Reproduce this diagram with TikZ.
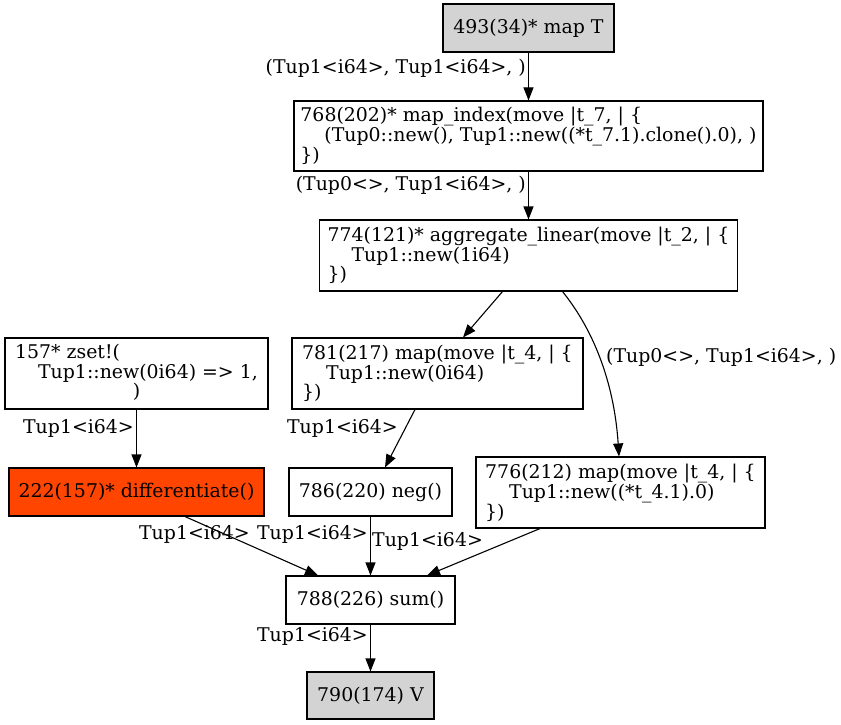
\documentclass[tikz,border=0pt]{standalone}
\usepackage{fontspec}
\setmainfont{DejaVu Serif}
\usetikzlibrary{arrows.meta,calc}
\definecolor{gvgray}{HTML}{D3D3D3}
\definecolor{gvorange}{HTML}{FF4500}
\begin{document}
\begin{tikzpicture}[x=1pt,y=-1pt,
  every node/.style={font=\fontsize{18.9}{17}\selectfont},
  box/.style={draw=black,line width=1.1pt,rectangle,inner sep=0pt,align=left},
  lbl/.style={inner sep=0pt},
  edge/.style={draw=black,line width=1.1pt,-{Triangle[length=13pt,width=10pt]}}]
\useasboundingbox (0,0) rectangle (841,725);
% nodes
\node[box,fill=gvgray,minimum width=171pt,minimum height=48pt] (n493) at (528.5,28) {493(34)* map T};
\node[box,minimum width=469pt,minimum height=70pt] (n768) at (528.5,136) {768(202)* map\_index(move |t\_7, | \{\\\hspace*{24pt}(Tup0::new(), Tup1::new((*t\_7.1).clone().0), )\\\})};
\node[box,minimum width=418pt,minimum height=71pt] (n774) at (528.5,255.5) {774(121)* aggregate\_linear(move |t\_2, | \{\\\hspace*{24pt}Tup1::new(1i64)\\\})};
\node[box,minimum width=263pt,minimum height=71pt] (n157) at (136.5,373.5) {\begin{tabular}{@{}l@{}}157* zset!(\\\hspace*{23pt}Tup1::new(0i64) => 1,\\\multicolumn{1}{@{}c@{}}{)}\end{tabular}};
\node[box,minimum width=291pt,minimum height=71pt] (n781) at (437.5,373.5) {781(217) map(move |t\_4, | \{\\\hspace*{24pt}Tup1::new(0i64)\\\})};
\node[box,fill=gvorange,minimum width=255pt,minimum height=48pt] (n222) at (136.5,492) {222(157)* differentiate()};
\node[box,minimum width=163pt,minimum height=48pt] (n786) at (370.5,492) {786(220) neg()};
\node[box,minimum width=289pt,minimum height=71pt] (n776) at (620.5,492.5) {776(212) map(move |t\_4, | \{\\\hspace*{24pt}Tup1::new((*t\_4.1).0)\\\})};
\node[box,minimum width=169pt,minimum height=48pt] (n788) at (370.5,600) {788(226) sum()};
\node[box,fill=gvgray,minimum width=127pt,minimum height=47pt] (n790) at (370.5,695.5) {790(174) V};
% edges
\draw[edge] (n493.south) -- (n768.north);
\draw[edge] (n768.south) -- (n774.north);
\draw[edge] ($(n774.south)+(-26,0)$) -- ($(n781.north)+(25.5,0)$);
\draw[edge] ($(n774.south)+(34,0)$) .. controls (592,328) and (614,380) .. ($(n776.north)+(-1.5,0)$);
\draw[edge] (n157.south) -- (n222.north);
\draw[edge] ($(n781.south)+(-22.5,0)$) -- ($(n786.north)+(14.5,0)$);
\draw[edge] ($(n222.south)+(48.5,0)$) -- ($(n788.north)+(-52.5,0)$);
\draw[edge] (n786.south) -- (n788.north);
\draw[edge] ($(n776.south)+(-80.5,0)$) -- ($(n788.north)+(56.5,0)$);
\draw[edge] (n788.south) -- (n790.north);
% labels
\node[lbl,anchor=east] (l1) at (526,68) {(Tup1<i64>, Tup1<i64>, )};
\node[lbl,anchor=east] (l2) at (526,185) {(Tup0<>, Tup1<i64>, )};
\node[lbl,anchor=west] (l3) at (606,357) {(Tup0<>, Tup1<i64>, )};
\node[lbl,anchor=east] (l4) at (134,428) {Tup1<i64>};
\node[lbl,anchor=east] (l5) at (398,428) {Tup1<i64>};
\node[lbl,anchor=east] (l6) at (250,534) {Tup1<i64>};
\node[lbl,anchor=east] (l7) at (368,534) {Tup1<i64>};
\node[lbl,anchor=west] (l8) at (372,541) {Tup1<i64>};
\node[lbl,anchor=east] (l9) at (368,636) {Tup1<i64>};
\end{tikzpicture}
\end{document}
